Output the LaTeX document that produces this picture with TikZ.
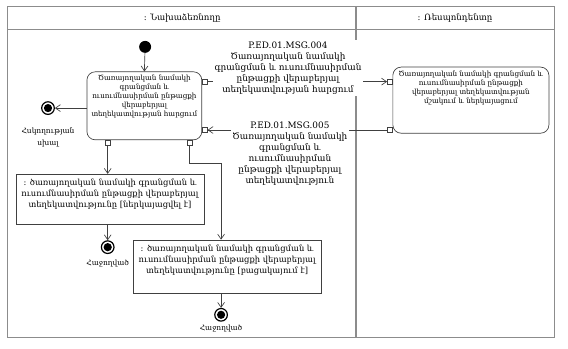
\documentclass[tikz,border=0pt]{standalone}
\usepackage{fontspec}
\setmainfont{DejaVu Serif}
\usetikzlibrary{arrows.meta,positioning}

\begin{document}
\begin{tikzpicture}[
    line width=0.5pt,
    >={Straight Barb[length=1.3mm,width=1.8mm]},
    actbox/.style={draw, black!75, rounded corners=2.2mm},
    objbox/.style={draw, black!75},
    pinbox/.style={draw, black!75, fill=white, inner sep=0pt, minimum size=3.6pt},
    txt/.style={align=center, inner sep=1pt, font=\fontsize{5.4}{6.75}\selectfont},
    objtxt/.style={align=center, inner sep=1pt, font=\fontsize{6.3}{8.25}\selectfont},
    hdrtxt/.style={inner sep=1pt, font=\fontsize{6.5}{8}\selectfont},
    endtxt/.style={align=center, inner sep=1pt, font=\fontsize{5.6}{9}\selectfont},
    msglabel/.style={align=center, fill=white, inner sep=1pt, font=\fontsize{6.7}{8.25}\selectfont},
    startdot/.style={circle, fill=black, minimum size=9pt, inner sep=0pt},
    enddot/.style={circle, draw, line width=0.9pt, minimum size=9.5pt, inner sep=0pt,
      path picture={\fill (path picture bounding box.center) circle (3.1pt);}},
    flow/.style={->, black!75},
  ]
  \useasboundingbox (0,0) rectangle (15.03,-9.23);

  % Raias
  \draw[black!45, line width=0.8pt] (0.19,-0.16) rectangle (14.68,-8.92);
  \draw[black!45, line width=0.8pt] (0.19,-0.79) -- (14.68,-0.79);
  \draw[black!45, line width=0.8pt] (9.42,-0.16) -- (9.42,-8.92);
  \node[hdrtxt] (hdrA) at (4.82,-0.48) {: Նախաձեռնողը};
  \node[hdrtxt] (hdrB) at (12.04,-0.48) {: Ռեսպոնդենտը};

  % Caixas
  \node[startdot] (ini) at (3.84,-1.24) {};
  \node[actbox, minimum width=3.04cm, minimum height=1.80cm] (a1) at (3.82,-2.80) {};
  \node[txt, below=0.05cm of a1.north] (a1t)
    {Ծառայողական նամակի\\գրանցման և\\ուսումնասիրման ընթացքի\\վերաբերյալ\\տեղեկատվության հարցում};
  \node[actbox, minimum width=4.13cm, minimum height=1.75cm] (r1) at (12.46,-2.65) {};
  \node[txt, below=0.08cm of r1.north] (r1t)
    {Ծառայողական նամակի գրանցման և\\ուսումնասիրման ընթացքի\\վերաբերյալ տեղեկատվության\\մշակում և ներկայացում};

  \node[objbox, minimum width=4.97cm, minimum height=1.32cm] (o1) at (2.91,-5.27) {};
  \node[objtxt, below=0.1cm of o1.north] (o1t)
    {: ծառայողական նամակի գրանցման և\\ուսումնասիրման ընթացքի վերաբերյալ\\տեղեկատվությունը [ներկայացվել է]};
  \node[objbox, minimum width=4.97cm, minimum height=1.40cm] (o2) at (6.01,-7.05) {};
  \node[objtxt, below=0.1cm of o2.north] (o2t)
    {: ծառայողական նամակի գրանցման և\\ուսումնասիրման ընթացքի վերաբերյալ\\տեղեկատվությունը [բացակայում է]};

  % Pinos
  \node[pinbox, anchor=west] (pout) at ([yshift=0.64cm]a1.east) {};
  \node[pinbox, anchor=west] (pinc) at ([yshift=-0.64cm]a1.east) {};
  \node[pinbox, anchor=north] (p1) at ([xshift=-0.97cm]a1.south) {};
  \node[pinbox, anchor=north] (p2) at ([xshift=1.20cm]a1.south) {};
  \node[pinbox, anchor=east] (rin) at (r1.west |- pout) {};
  \node[pinbox, anchor=east] (rout) at (r1.west |- pinc) {};

  % Finais
  \node[enddot] (f0) at (1.27,-2.86) {};
  \node[endtxt, below=0.3cm of f0] (f0t) {Հսկողության\\սխալ};
  \node[enddot] (f1) at (2.85,-6.54) {};
  \node[endtxt, below=0.12cm of f1] (f1t) {Հաջողված};
  \node[enddot] (f2) at (5.85,-8.33) {};
  \node[endtxt, below=0.04cm of f2] (f2t) {Հաջողված};
  \coordinate (dobra) at (5.85,-4.31);

  % Fluxo
  \draw[flow] (ini) -- (a1.north);
  \draw[flow] (a1.west |- f0) -- (f0);
  \draw[flow] (pout.east) -- (rin.west);
  \draw[flow] (rout.west) -- (pinc.east);
  \draw[flow] (p1.south) -- (p1.south |- o1.north);
  \draw[flow] (o1.south -| f1) -- (f1);
  \draw[flow] (p2.south) |- (dobra) -- (dobra |- o2.north);
  \draw[flow] (o2.south -| f2) -- (f2);

  % Mensagens
  \node[msglabel] (msg4) at (7.62,-1.80)
    {P.ED.01.MSG.004\\Ծառայողական նամակի\\գրանցման և ուսումնասիրման\\ընթացքի վերաբերյալ\\տեղեկատվության հարցում};
  \node[msglabel] (msg5) at (7.67,-4.06)
    {P.ED.01.MSG.005\\Ծառայողական նամակի\\գրանցման և\\ուսումնասիրման\\ընթացքի վերաբերյալ\\տեղեկատվություն};
\end{tikzpicture}
\end{document}
